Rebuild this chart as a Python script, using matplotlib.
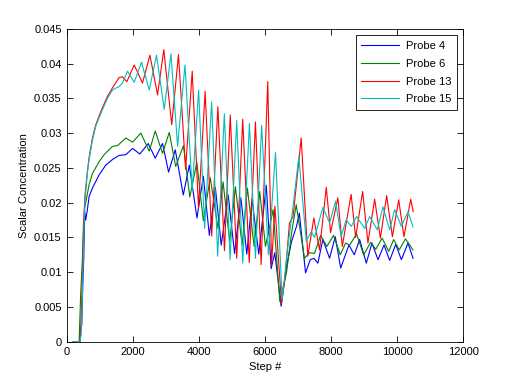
import matplotlib
matplotlib.use('Agg')
import matplotlib.pyplot as plt

plt.rcParams['font.family'] = ['Liberation Sans', 'DejaVu Sans']
plt.rcParams['font.size'] = 8

# values (step, concentration)
p4_x = [200, 400, 430, 460, 490, 520, 550, 580, 630, 682, 783, 985, 1186, 1388, 1590, 1793, 1995,
        2217, 2469, 2682, 2903, 3085, 3288, 3530, 3712, 3944, 4136, 4318, 4500, 4677, 4888, 5080,
        5272, 5450, 5611, 5813, 6040, 6187, 6296, 6490, 6651, 6803, 6954, 7040, 7227, 7369, 7480,
        7600, 7751, 7954, 8126, 8290, 8539, 8702, 8863, 9065, 9236, 9418, 9600, 9772, 9954, 10126,
        10326, 10478]
p4_y = [0, 0, 0.0015, 0.0024, 0.008, 0.012, 0.0187, 0.0175, 0.019, 0.0209, 0.0221, 0.024, 0.0254,
        0.0262, 0.0268, 0.0269, 0.0278, 0.027, 0.0285, 0.0264, 0.0285, 0.0244, 0.0276, 0.0211,
        0.0254, 0.0178, 0.0238, 0.0153, 0.0222, 0.0139, 0.0211, 0.0127, 0.0207, 0.0126, 0.0205,
        0.0126, 0.0225, 0.0105, 0.0128, 0.0051, 0.0108, 0.0144, 0.0166, 0.0185, 0.0099, 0.0118,
        0.012, 0.0113, 0.0147, 0.012, 0.0151, 0.0106, 0.0139, 0.0125, 0.0147, 0.0113, 0.0142,
        0.0118, 0.0139, 0.0117, 0.014, 0.0118, 0.0142, 0.012]

p6_x = [200, 380, 424, 480, 510, 540, 600, 682, 783, 985, 1136, 1388, 1540, 1793, 1995, 2247, 2500,
        2682, 2903, 3106, 3300, 3535, 3727, 3940, 4136, 4345, 4581, 4733, 4933, 5106, 5309, 5469,
        5672, 5842, 6015, 6247, 6448, 6651, 6803, 6945, 7196, 7348, 7499, 7681, 7872, 8075, 8278,
        8439, 8560, 8772, 8984, 9196, 9347, 9545, 9742, 9893, 10060, 10247, 10478]
p6_y = [0, 0, 0.0065, 0.012, 0.0168, 0.019, 0.0205, 0.0226, 0.0242, 0.0259, 0.0269, 0.0281,
        0.0282, 0.0293, 0.0287, 0.03, 0.0274, 0.0303, 0.0271, 0.0301, 0.0252, 0.0282, 0.0208,
        0.0258, 0.0174, 0.0236, 0.0163, 0.023, 0.0144, 0.0223, 0.0139, 0.0221, 0.0137, 0.0216,
        0.0137, 0.019, 0.0058, 0.0099, 0.0156, 0.0197, 0.012, 0.0128, 0.0127, 0.0153, 0.0137,
        0.0153, 0.0125, 0.0142, 0.0139, 0.0155, 0.0125, 0.0143, 0.0133, 0.0149, 0.013, 0.0147,
        0.0132, 0.0148, 0.0132]

p13_x = [200, 400, 430, 460, 490, 520, 550, 630, 682, 783, 884, 1035, 1237, 1388, 1590, 1691, 1823,
         2045, 2297, 2521, 2752, 2940, 3180, 3385, 3600, 3800, 3990, 4190, 4390, 4575, 4775, 4950,
         5145, 5327, 5525, 5712, 5884, 6085, 6200, 6300, 6500, 6600, 6742, 6850, 7096, 7296, 7478,
         7651, 7854, 7984, 8205, 8339, 8605, 8742, 8954, 9114, 9317, 9490, 9681, 9854, 10044,
         10205, 10408, 10484]
p13_y = [0, 0, 0.0024, 0.0063, 0.012, 0.0168, 0.0207, 0.0245, 0.0265, 0.0293, 0.0312, 0.0331,
         0.0353, 0.0365, 0.038, 0.0381, 0.0374, 0.0398, 0.0372, 0.0412, 0.0355, 0.042, 0.0312,
         0.0413, 0.0248, 0.0389, 0.0192, 0.036, 0.0152, 0.0338, 0.0131, 0.0326, 0.012, 0.032,
         0.0114, 0.0316, 0.0111, 0.0374, 0.011, 0.0195, 0.0055, 0.009, 0.0171, 0.018, 0.0293,
         0.0123, 0.0178, 0.0132, 0.0222, 0.0157, 0.0207, 0.0137, 0.0212, 0.015, 0.0216, 0.0142,
         0.0205, 0.0149, 0.021, 0.0151, 0.0204, 0.0151, 0.0205, 0.0187]

p15_x = [200, 400, 440, 470, 500, 530, 560, 630, 682, 783, 884, 1035, 1237, 1388, 1500, 1590, 1691,
         1843, 2045, 2267, 2500, 2721, 2954, 3157, 3358, 3581, 3800, 3994, 4175, 4388, 4570, 4772,
         4945, 5145, 5327, 5530, 5712, 5900, 6105, 6318, 6520, 6700, 6850, 7024, 7248, 7399, 7500,
         7751, 7954, 8136, 8302, 8454, 8611, 8772, 9014, 9166, 9399, 9569, 9772, 9923, 10126,
         10326, 10478]
p15_y = [0, 0, 0.001, 0.005, 0.011, 0.0165, 0.0205, 0.0243, 0.0262, 0.029, 0.031, 0.0328, 0.035,
         0.0362, 0.0365, 0.0367, 0.0372, 0.0389, 0.0373, 0.0402, 0.0362, 0.0412, 0.0334, 0.0414,
         0.0281, 0.0398, 0.0218, 0.0362, 0.0163, 0.0345, 0.0123, 0.0328, 0.0118, 0.0318, 0.0113,
         0.0314, 0.012, 0.0311, 0.0125, 0.0272, 0.006, 0.014, 0.0195, 0.0266, 0.0145, 0.0158,
         0.015, 0.0193, 0.0171, 0.0202, 0.0151, 0.0175, 0.0166, 0.018, 0.0163, 0.018, 0.0161,
         0.0194, 0.0161, 0.019, 0.0166, 0.0187, 0.0165]

labels = ['Probe 4', 'Probe 6', 'Probe 13', 'Probe 15']
xticks = list(range(0, 12001, 2000))
yticks = [0, 0.005, 0.01, 0.015, 0.02, 0.025, 0.03, 0.035, 0.04, 0.045]
ytick_labels = ['0', '0.005', '0.01', '0.015', '0.02', '0.025', '0.03', '0.035', '0.04', '0.045']

fig = plt.figure(figsize=(5.12, 3.84), dpi=100)
ax = fig.add_axes([0.13, 0.11, 0.775, 0.815])

ax.plot(p4_x, p4_y, color=(0, 0, 1), lw=0.8, label=labels[0])
ax.plot(p6_x, p6_y, color=(0, 0.5, 0), lw=0.8, label=labels[1])
ax.plot(p13_x, p13_y, color=(1, 0, 0), lw=0.8, label=labels[2])
ax.plot(p15_x, p15_y, color=(0, 0.75, 0.75), lw=0.8, label=labels[3])

ax.set_xlim(0, 12000)
ax.set_ylim(0, 0.045)
ax.set_xticks(xticks)
ax.set_yticks(yticks)
ax.set_yticklabels(ytick_labels)
ax.tick_params(direction='in', length=4, width=0.6, top=True, right=True)
for s in ax.spines.values():
    s.set_linewidth(0.6)

ax.set_xlabel('Step #')
ax.set_ylabel('Scalar Concentration')

leg = ax.legend(loc='upper right', fancybox=False, framealpha=1, edgecolor='black',
                handlelength=3.4, handletextpad=0.6, borderpad=0.5, labelspacing=0.7,
                borderaxespad=0.6)
leg.get_frame().set_linewidth(0.6)

fig.savefig('out.png', dpi=100)
